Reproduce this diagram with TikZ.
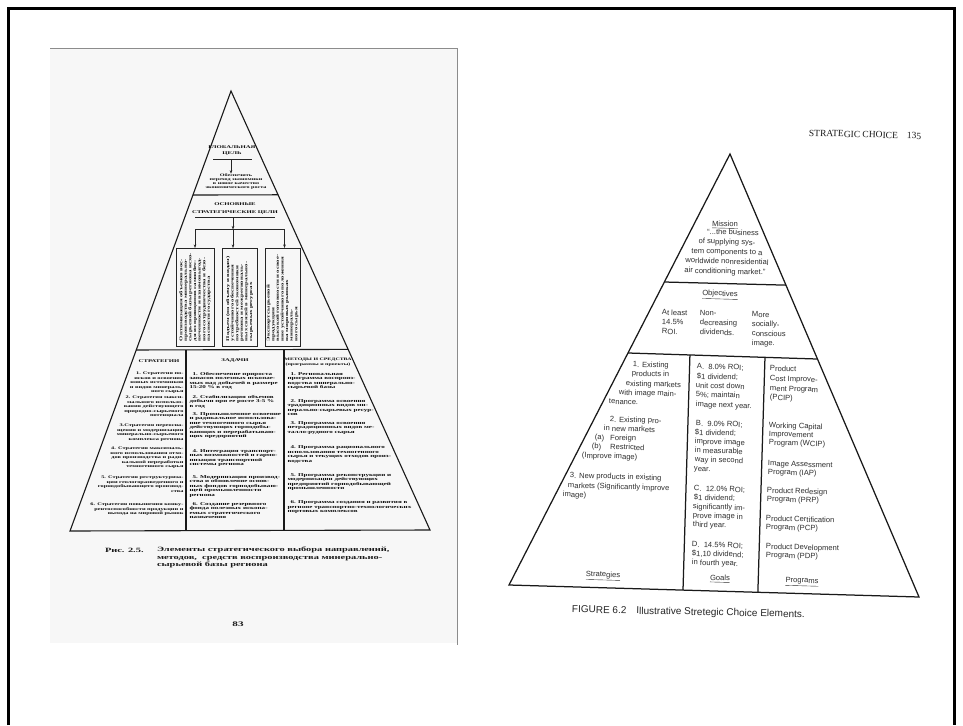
\documentclass[tikz,border=0pt]{standalone}
\usepackage{fontspec}
\newfontfamily\ru[FakeStretch=1.6]{Liberation Serif}
\newfontfamily\rsans{Liberation Sans}
\newfontfamily\rserif{Liberation Serif}
\usetikzlibrary{arrows.meta,calc}
\begin{document}
\begin{tikzpicture}[x=1pt,y=-1pt,
  every node/.style={inner sep=0pt,outer sep=0pt},
  frame/.style={line width=2.5pt,black},
  pageedge/.style={line width=0.8pt,black!45},
  lline/.style={line width=1.1pt,black!90,line join=miter},
  lthin/.style={line width=0.7pt,black!85},
  larr/.style={-{Stealth[length=3.5pt,width=2.6pt]},line width=0.6pt,black!85},
  lbox/.style={draw=black!85,line width=0.7pt,minimum height=98pt},
  ltxt/.style={font=\ru\bfseries\fontsize{4.4}{4.5}\selectfont,text=black!95,align=left,anchor=north west},
  ltxtr/.style={font=\ru\bfseries\fontsize{3.95}{4.5}\selectfont,text=black!95,align=right,anchor=north east},
  lrot/.style={font=\ru\bfseries\fontsize{4.2}{4.6}\selectfont,text=black!95,align=left,rotate=90,text width=88pt},
  lhead/.style={font=\ru\bfseries\fontsize{4.2}{6}\selectfont,text=black!95,align=center},
  lcap/.style={font=\ru\bfseries\fontsize{6.5}{7.5}\selectfont,text=black!90},
  rline/.style={line width=1.25pt,black!90,line join=miter},
  rtxt/.style={font=\rsans\fontsize{7.6}{9.5}\selectfont,text=black!82,rotate=-1.6,anchor=west},
  rcap/.style={font=\rsans\fontsize{10}{12}\selectfont,text=black!85,rotate=-1.2,anchor=west},
  rhdr/.style={font=\rserif\fontsize{9.5}{11}\selectfont,text=black!90,rotate=-1.6,anchor=west}
]
\useasboundingbox (0,0) rectangle (963,725);
% outer frame
\draw[frame] (8.5,725) -- (8.5,8.5) -- (954.5,8.5) -- (954.5,725);

% ---------------- left page ----------------
\fill[black!3] (50,48) rectangle (457,643);
\draw[pageedge] (50,48) -- (457.5,48) -- (457.5,645);

\coordinate (LA) at (231,91);
\coordinate (LL) at (70,531);
\coordinate (LR) at (430,530);
\draw[lline] (LL) -- (LA) -- (LR) -- cycle;
\draw[lline] ($(LA)!0.2364!(LL)$) -- ($(LA)!0.2364!(LR)$);
\draw[lline] ($(LA)!0.5886!(LL)$) coordinate (D2L) -- ($(LA)!0.5886!(LR)$) coordinate (D2R);
\coordinate (C1t) at (186,350); \coordinate (C1b) at (186,531);
\coordinate (C2t) at (284,350); \coordinate (C2b) at (284,530);
\draw[lline] (C1t) -- (C1b);
\draw[lline] (C2t) -- (C2b);

% global goal
\node[lhead] (glob) at (232,151) {ГЛОБАЛЬНАЯ\\ЦЕЛЬ};
\draw[lthin] (213,159.5) -- (252,159.5);
\coordinate (g1) at (231,160);
\node[font=\ru\bfseries\fontsize{3.8}{4}\selectfont,text=black!95,align=center] (gobj) at (236,181.5)
  {Обеспечить\\переход экономики\\в новое качество\\экономического роста};
\draw[larr] (g1) -- (g1 |- gobj.north);

% main strategic goals
\node[lhead,font=\ru\bfseries\fontsize{4.2}{8}\selectfont] (osn) at (235,208.5) {ОСНОВНЫЕ\\СТРАТЕГИЧЕСКИЕ ЦЕЛИ};
\draw[lthin] (195,217) -- (275,217);
\coordinate (s0) at (233,217.5);
\coordinate (br) at (233,229.5);
\draw[larr] (s0) -- (br);
\coordinate (a1) at (195,229.5);
\coordinate (a2) at (233,229.5);
\coordinate (a3) at (284.5,229.5);
\draw[lthin] (a1) -- (a3);

\node[lbox,minimum width=38pt] (b1) at (195,297) {};
\node[lbox,minimum width=35pt] (b2) at (239.5,297) {};
\node[lbox,minimum width=35pt] (b3) at (282.5,297) {};
\draw[larr] (a1) -- (a1 |- b1.north);
\draw[larr] (a2) -- (a2 |- b2.north);
\draw[larr] (a3) -- (a3 |- b3.north);

\node[lrot] (bt1) at (b1.center) {Оптимизация объемов вос-\\производства минерально-\\сырьевой базы региона исхо-\\дя из принципов самообес-\\печенности и взаимовыгод-\\ного сотрудничества и безо-\\пасности государства};
\node[lrot] (bt2) at (b2.center) {Подъем (по объему и видам)\\устойчивого обеспечения\\потребностей экономики\\региона и межрегиональ-\\ных связей в минерально-\\сырьевых ресурсах};
\node[lrot] (bt3) at (b3.center) {Экспорт сырьевой продукции\\высокой готовности и освое-\\ние устойчивого положения\\на мировых рынках минераль-\\ного сырья};

% column headers
\node[lhead] (h1) at (159,361) {СТРАТЕГИИ};
\node[lhead] (h2) at (235,361) {ЗАДАЧИ};
\node[lhead,font=\ru\bfseries\fontsize{3.7}{5.5}\selectfont] (h3) at (318,362) {МЕТОДЫ И СРЕДСТВА\\(программы и проекты)};

% column 1
\node[ltxtr] (p1) at (183.5,372.2) {1. Стратегия по-\\исков и освоения\\новых источников\\и видов минераль-\\ного сырья};
\node[ltxtr] (p2) at (183.5,396.2) {2. Стратегия макси-\\мального использо-\\вания действующего\\природно-сырьевого\\потенциала};
\node[ltxtr] (p3) at (183.5,424.2) {3.Стратегия переосна-\\щения и модернизации\\минерально-сырьевого\\комплекса региона};
\node[ltxtr] (p4) at (183.5,447.2) {4. Стратегия максималь-\\ного использования отхо-\\дов производства и ради-\\кальной переработки\\техногенного сырья};
\node[ltxtr] (p5) at (183.5,476.2) {5. Стратегия реструктуриза-\\ции геологоразведочного и\\горнодобывающего производ-\\ства};
\node[ltxtr] (p6) at (183.5,503.2) {6. Стратегия повышения конку-\\рентоспособности продукции и\\выхода на мировой рынок};

% column 2
\node[ltxt] (q1) at (189.5,372.2) {\hspace*{3pt}1. Обеспечение прироста\\запасов полезных ископае-\\мых над добычей в размере\\15-20 \% в год};
\node[ltxt] (q2) at (189.5,395.2) {\hspace*{3pt}2. Стабилизация объемов\\добычи при ее росте 3-5 \%\\в год};
\node[ltxt] (q3) at (189.5,412.2) {\hspace*{3pt}3. Промышленное освоение\\и радикальное использова-\\ние техногенного сырья\\действующих горнодобы-\\вающих и перерабатываю-\\щих предприятий};
\node[ltxt] (q4) at (189.5,449.2) {\hspace*{3pt}4. Интеграция транспорт-\\ных возможностей и гармо-\\низация транспортной\\системы региона};
\node[ltxt] (q5) at (189.5,475.2) {\hspace*{3pt}5. Модернизация производ-\\ства и обновление основ-\\ных фондов горнодобываю-\\щей промышленности\\региона};
\node[ltxt] (q6) at (189.5,502.2) {\hspace*{3pt}6. Создание резервного\\фонда полезных ископа-\\емых стратегического\\назначения};

% column 3
\node[ltxt] (m1) at (287.5,372.2) {\hspace*{3pt}1. Региональная\\программа воспроиз-\\водства минерально-\\сырьевой базы};
\node[ltxt] (m2) at (287.5,399.2) {\hspace*{3pt}2. Программа освоения\\традиционных видов ми-\\нерально-сырьевых ресур-\\сов};
\node[ltxt] (m3) at (287.5,421.2) {\hspace*{3pt}3. Программа освоения\\нетрадиционных видов ме-\\талло-рудного сырья};
\node[ltxt] (m4) at (287.5,445.7) {\hspace*{3pt}4. Программа рационального\\использования техногенного\\сырья и текущих отходов произ-\\водства};
\node[ltxt] (m5) at (287.5,473.2) {\hspace*{3pt}5. Программа реконструкции и\\модернизации действующих\\предприятий горнодобывающей\\промышленности};
\node[ltxt] (m6) at (287.5,500.7) {\hspace*{3pt}6. Программа создания и развития в\\регионе транспортно-технологических\\портовых комплексов};

% caption and page number
\node[lcap,anchor=west] (cap0) at (105,550) {Рис. 2.5.};
\node[lcap,anchor=north west,align=left] (cap1) at (157,547) {Элементы стратегического выбора направлений,\\методов,\ \ средств воспроизводства минерально-\\сырьевой базы региона};
\node[lcap,font=\ru\bfseries\fontsize{7}{8}\selectfont] (pg) at (238,624) {83};

% ---------------- right page ----------------
\node[rhdr] (hdr) at (809,133) {STRATEGIC CHOICE\hspace{9pt}135};

\coordinate (RA) at (730,154);
\coordinate (RL) at (509,585);
\coordinate (RR) at (919,597);
\draw[rline] (RL) -- (RA) -- (RR) -- cycle;
\draw[rline] ($(RA)!0.297!(RL)$) -- ($(RA)!0.296!(RR)$);
\draw[rline] ($(RA)!0.4617!(RL)$) coordinate (O1) -- ($(RA)!0.4628!(RR)$) coordinate (O2);
\draw[rline] ($(O1)!0.327!(O2)$) -- ($(RL)!0.4244!(RR)$);
\draw[rline] ($(O1)!0.723!(O2)$) -- ($(RL)!0.607!(RR)$);

% mission
\node[rtxt,anchor=center] (mis) at (725,225) {\underline{Mission}};
\foreach \xx/\yy/\lab [count=\i] in {
  733/233/{“...the business},
  727/242.5/{of supplying sys-},
  727/252.3/{tem components to a},
  727/262.1/{worldwide nonresidential},
  725/272/{air conditioning market.”}}
  {\node[rtxt,anchor=center] (rm\i) at (\xx,\yy) {\strut\lab};}

% objectives
\node[rtxt,anchor=center] (obj) at (720,295) {\underline{Objectives}};
\foreach \xx/\yy/\lab [count=\i] in {
  662/313/{At least}, 662/322.5/{14.5\%}, 662/332/{ROI.},
  700/313.5/{Non-}, 700/323/{decreasing}, 700/332.5/{dividends.},
  752/315/{More}, 752/324.5/{socially-}, 752/334/{conscious}, 752/343.5/{image.}}
  {\node[rtxt] (ro\i) at (\xx,\yy) {\strut\lab};}

% strategies
\foreach \xx/\yy/\lab [count=\i] in {
  633/365/{1. Existing},
  632/374/{products in},
  626/384/{existing markets},
  619/393/{with image main-},
  609/402/{tenance.},
  610/420/{2. Existing pro-},
  604/429/{in new markets},
  595/438/{(a)\hspace{6pt}Foreign},
  592/447/{(b)\hspace{9pt}Restricted},
  582/456/{(Improve image)},
  570/476/{3. New products in existing},
  568/486/{markets (Significantly improve},
  563/495/{image)}}
  {\node[rtxt] (rs\i) at (\xx,\yy) {\strut\lab};}

% goals
\foreach \xx/\yy/\lab [count=\i] in {
  697/367/{A.\ \ 8.0\% ROI;},
  697/377/{\$1 dividend;},
  696/386/{unit cost down},
  696/395/{5\%; maintain},
  696/405/{image next year.},
  696/424/{B.\ \ 9.0\% ROI;},
  695/433/{\$1 dividend;},
  695/442/{improve image},
  695/451/{in measurable},
  695/460/{way in second},
  694/469/{year.},
  694/489/{C.\ \ 12.0\% ROI;},
  694/498/{\$1 dividend;},
  693/507/{significantly im-},
  693/516/{prove image in},
  693/525/{third year.},
  692/545/{D.\ \ 14.5\% ROI;},
  692/554/{\$1,10 dividend;},
  692/563/{in fourth year.}}
  {\node[rtxt] (rg\i) at (\xx,\yy) {\strut\lab};}

% programs
\foreach \xx/\yy/\lab [count=\i] in {
  770/369/{Product},
  770/379/{Cost Improve-},
  770/389/{ment Program},
  770/398/{(PCIP)},
  769/426/{Working Capital},
  769/434.5/{Improvement},
  769/443/{Program (WCIP)},
  768/464/{Image Assessment},
  768/472.5/{Program (IAP)},
  767/491/{Product Redesign},
  767/499.5/{Program (PRP)},
  766/519/{Product Certification},
  766/527.5/{Program (PCP)},
  766/547/{Product Development},
  766/555.5/{Program (PDP)}}
  {\node[rtxt] (rp\i) at (\xx,\yy) {\strut\lab};}

\node[rtxt,anchor=center] (lst) at (603,576) {\underline{Strategies}};
\node[rtxt,anchor=center] (lgo) at (720,579) {\underline{Goals}};
\node[rtxt,anchor=center] (lpr) at (802,582) {\underline{Programs}};

\node[rcap] (fig) at (572,610) {FIGURE 6.2\hspace{10pt}Illustrative Stretegic Choice Elements.};
\end{tikzpicture}
\end{document}
